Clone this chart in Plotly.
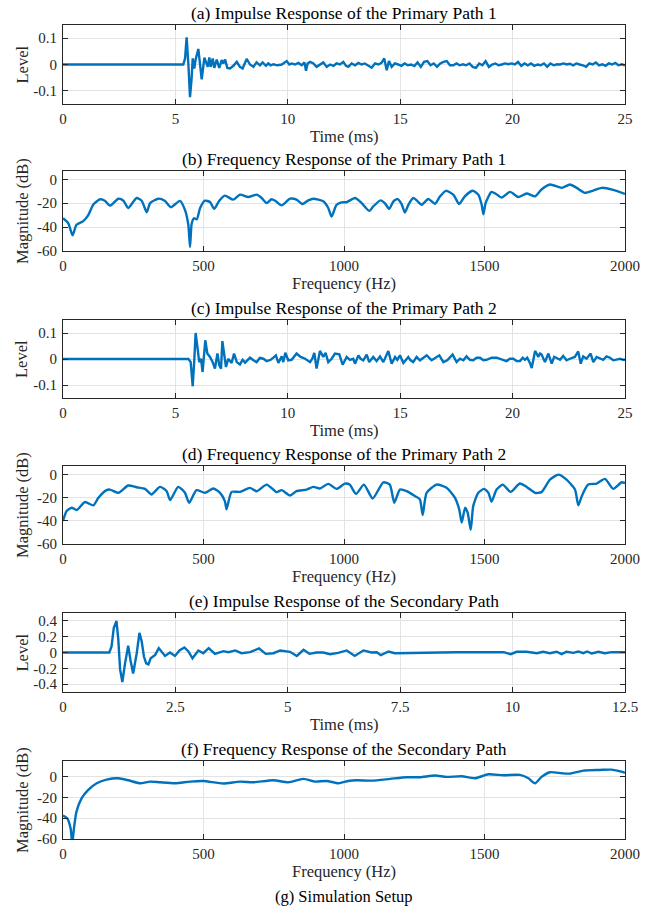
import numpy as np
import plotly.graph_objects as go

# ---------------- data ----------------
# (a) impulse response, primary path 1  (time in ms)
ir1_t = [0, 5.35, 5.43, 5.50, 5.58, 5.65, 5.72, 5.77, 5.84, 5.90,
         6.02, 6.09, 6.17, 6.29, 6.35, 6.44, 6.51, 6.57, 6.66, 6.73,
         6.84, 6.95, 7.06, 7.13, 7.21, 7.31, 7.43, 7.58, 7.73, 7.87,
         7.99, 8.17, 8.32, 8.47, 8.61, 8.76, 8.88, 9.03, 9.13, 9.24,
         9.36, 9.53, 9.73, 9.95, 10.07, 10.17, 10.32, 10.47, 10.62, 10.74,
         10.81, 10.88, 10.99, 11.14, 11.28, 11.43, 11.58, 11.73, 11.88, 12.03,
         12.17, 12.32, 12.47, 12.59, 12.69, 12.84, 12.99, 13.14, 13.28, 13.43,
         13.58, 13.73, 13.88, 14.03, 14.17, 14.29, 14.40, 14.50]
ir1_v = [0, 0, 0.023, 0.103, -0.003, -0.124, -0.054, 0.023, -0.015, 0.019,
         0.059, -0.003, -0.056, 0.026, 0.008, -0.009, 0.027, -0.009, 0.023, -0.013,
         0.019, -0.013, 0.017, 0.004, 0.019, -0.013, -0.015, -0.005, 0.010, -0.009,
         -0.015, 0.021, 0, -0.009, 0.008, -0.003, 0.008, -0.005, 0.004, -0.003,
         0.001, -0.003, 0, 0.013, 0, 0.004, 0, 0.006, -0.003, 0.008,
         -0.024, 0.004, 0.010, 0.004, -0.009, 0, 0.008, -0.009, 0, -0.005,
         0.004, 0, 0.010, -0.005, -0.009, 0.004, -0.003, 0.006, 0, 0.004,
         -0.003, -0.012, 0.004, 0, 0.006, 0.023, -0.022, 0.013]
ir1_tail_v = [-0.009, 0.004, 0, -0.005, 0.004, -0.003, 0, -0.006, 0.008, -0.009,
              0.010, 0.013, -0.003, 0.004, -0.009, 0.004, 0.010, 0.013, -0.003, -0.003,
              0.004, -0.003, 0.001, -0.003, 0.004, -0.009, -0.013, 0.004, -0.003, 0.013,
              -0.009, 0, 0.004, -0.003, 0, 0.004, 0.001, 0.004, 0, 0.010,
              -0.005, 0.004, -0.003, 0.004, -0.005, 0, -0.003, 0.004, -0.009, 0.004,
              -0.003, 0.001, 0, 0.004, 0, 0.003, -0.003, 0.004, 0, -0.003,
              -0.009, 0.004, 0, 0.008, -0.003, 0.001, -0.005, 0.004, 0, 0.006,
              -0.003, 0.001, -0.003]
ir1_tail_start, ir1_tail_end = 14.62, 25.0

# (c) impulse response, primary path 2
ir2_t = [0, 5.58, 5.68, 5.77, 5.84, 5.90, 5.98, 6.06, 6.14, 6.21,
         6.33, 6.42, 6.54, 6.66, 6.76, 6.87, 6.95, 7.03, 7.09, 7.16,
         7.25, 7.35, 7.50, 7.61, 7.73, 7.87, 7.99, 8.10, 8.32, 8.47,
         8.61, 8.76, 8.91, 9.06, 9.24, 9.36, 9.47, 9.58, 9.73, 9.80,
         9.89, 10.02, 10.17, 10.39, 10.57, 10.77, 10.99, 11.09, 11.18, 11.28,
         11.43, 11.58, 11.68, 11.80, 11.95, 12.10, 12.29, 12.44, 12.62, 12.76,
         12.91, 12.99, 13.14, 13.24, 13.36, 13.51, 13.62, 13.80, 13.95, 14.10,
         14.25, 14.47, 14.62, 14.77, 14.87, 14.99, 15.14, 15.36, 15.46, 15.58,
         15.73, 15.88, 16.03, 16.18, 16.40, 16.59, 16.74, 16.92, 17.09, 17.33,
         17.51, 17.66, 17.81, 17.95, 18.10, 18.25, 18.40, 18.55, 18.70, 18.84,
         19.07, 19.29, 19.51, 19.73, 19.88, 20.03, 20.18, 20.33, 20.45, 20.55,
         20.65, 20.77, 20.85, 21.00, 21.07, 21.14, 21.22, 21.29, 21.44, 21.59,
         21.74, 21.85, 21.96, 22.11, 22.25, 22.40, 22.55, 22.77, 22.92, 23.03,
         23.14, 23.29, 23.47, 23.59, 23.74, 23.89, 24.03, 24.18, 24.33, 24.48,
         24.63, 24.78, 24.92, 25.0]
ir2_v = [0, 0, -0.012, -0.105, -0.005, 0.100, 0.046, -0.012, 0.001, -0.050,
         0.072, 0.021, 0.008, -0.012, -0.037, 0.021, -0.024, -0.037, 0.069, 0.027,
         -0.031, 0.001, -0.015, 0.021, -0.012, -0.021, -0.003, -0.014, 0.005, -0.005,
         -0.012, 0.004, 0.001, -0.008, -0.003, 0.005, 0.014, -0.015, 0.010, -0.012,
         0.024, -0.005, -0.003, 0.021, 0.008, 0.001, -0.012, 0.001, 0.023, -0.037,
         0.031, 0.008, 0.024, -0.012, 0.001, 0.021, 0.018, -0.022, 0.008, -0.003,
         0.001, -0.018, 0.014, 0.001, -0.005, 0.017, -0.012, 0.008, -0.008, 0.010,
         -0.012, 0.031, -0.018, 0.008, -0.003, 0.014, -0.015, 0.008, -0.005, -0.012,
         0.008, -0.005, 0.005, 0.014, -0.005, 0.005, 0.014, -0.012, -0.005, 0.017,
         -0.012, 0.001, -0.005, 0.010, -0.003, -0.005, 0.005, 0.005, -0.005, -0.003,
         0.005, 0.005, -0.003, -0.008, 0.001, 0.001, -0.008, -0.008, 0.005, -0.003,
         0.005, -0.015, -0.035, 0.031, 0.021, 0.008, 0.021, 0.017, -0.012, 0.021,
         -0.018, 0.008, 0.004, -0.003, 0.012, -0.005, 0.001, 0.008, 0.029, -0.018,
         0.010, 0.001, 0.021, -0.012, 0.008, 0.001, -0.003, 0.010, 0.005, -0.005,
         -0.001, 0.001, -0.003, -0.003]

# (e) impulse response, secondary path
irs_t = [0, 1.03, 1.08, 1.13, 1.19, 1.23, 1.27, 1.32, 1.38, 1.45,
         1.50, 1.56, 1.64, 1.70, 1.75, 1.80, 1.85, 1.90, 1.95, 2.05,
         2.13, 2.19, 2.27, 2.38, 2.49, 2.59, 2.70, 2.79, 2.88, 3.01,
         3.12, 3.24, 3.38, 3.57, 3.68, 3.83, 3.97, 4.16, 4.36, 4.51,
         4.68, 4.83, 5.05, 5.20, 5.35, 5.48, 5.64, 5.79, 5.94, 6.12,
         6.31, 6.49, 6.68, 6.86, 6.98, 7.07, 7.24, 7.38, 7.50, 8.0,
         8.4, 8.76, 9.13, 9.57, 9.80, 9.96, 10.09, 10.31, 10.54, 10.68,
         10.83, 10.98, 11.09, 11.20, 11.35, 11.46, 11.57, 11.66, 11.76, 11.91,
         12.05, 12.20, 12.35, 12.5]
irs_v = [0, 0, 0.077, 0.313, 0.398, 0.163, -0.214, -0.373, -0.137, 0.086,
         -0.094, -0.266, -0.009, 0.248, 0.141, -0.051, -0.137, -0.150, -0.073, -0.030,
         0.056, 0.013, -0.043, 0, -0.043, 0.026, 0.064, 0.013, -0.073, 0.026,
         -0.009, 0.056, -0.017, 0.017, 0.004, 0.026, -0.009, 0.004, 0.051, -0.017,
         -0.009, 0.026, 0.009, -0.043, 0.034, -0.017, 0, 0, -0.021, -0.004,
         0.026, -0.043, 0.026, 0, 0.004, -0.034, 0.013, -0.009, -0.009, -0.009,
         0, 0.004, 0.004, 0.009, 0.004, -0.021, 0.009, 0.009, -0.009, 0.009,
         -0.009, 0.009, -0.021, 0.009, -0.004, 0.013, -0.009, 0.013, -0.013, 0.009,
         -0.009, 0.004, 0, 0.004]

# (b) frequency response, primary path 1 (Hz, dB)
fr1_f = [0, 19, 34, 48, 72, 90, 108, 132, 149, 167,
         197, 215, 232, 262, 280, 298, 310, 339, 362, 384,
         416, 434, 446, 452, 458, 466, 476, 488, 505, 523,
         538, 556, 576, 606, 630, 659, 689, 707, 725, 742,
         755, 778, 808, 831, 852, 873, 891, 926, 944, 956,
         973, 991, 1010, 1039, 1063, 1090, 1104, 1130, 1145, 1161,
         1176, 1191, 1205, 1217, 1229, 1247, 1262, 1276, 1300, 1324,
         1342, 1363, 1389, 1410, 1430, 1458, 1478, 1490, 1496, 1504,
         1525, 1541, 1561, 1591, 1620, 1650, 1680, 1703, 1733, 1775,
         1804, 1828, 1857, 1887, 1917, 1958, 2000]
fr1_db = [-32.6, -36.9, -46.8, -38, -35, -30, -21, -16.7, -17.9, -22,
          -16.2, -17.9, -24, -15.6, -17.9, -27.5, -19.9, -16.2, -17.9, -23.3,
          -18, -25.5, -38, -56.7, -37, -32.6, -33.5, -24, -17.9, -19,
          -24.7, -17.9, -13.6, -17, -12.8, -14.8, -12.8, -15.6, -19.9, -16.7,
          -17.9, -21.8, -16.2, -17, -20.7, -17.6, -16.2, -18.4, -24, -31.2,
          -21.5, -19.3, -19, -15.6, -19.9, -26.4, -22.7, -17.6, -19.9, -24.7,
          -18.4, -16.5, -20.7, -27.8, -21.3, -15.6, -18.4, -21.3, -16.5, -20.4,
          -14.2, -9.6, -12.8, -20.7, -14.2, -9.6, -12.8, -21.3, -29.2, -19.9,
          -10.5, -12.2, -15.3, -10.5, -14.8, -11.9, -14.2, -8.5, -4.3, -7.1,
          -4.3, -7.1, -11.3, -9.4, -7.1, -8.8, -12.2]

# (d) frequency response, primary path 2
fr2_f = [0, 13, 31, 49, 78, 108, 126, 155, 167, 197,
         232, 262, 292, 315, 345, 369, 381, 410, 434, 449,
         475, 505, 535, 559, 576, 582, 600, 630, 665, 689,
         725, 760, 778, 808, 831, 867, 891, 914, 944, 974,
         1003, 1020, 1043, 1071, 1102, 1140, 1163, 1179, 1199, 1223,
         1253, 1270, 1280, 1294, 1330, 1365, 1395, 1410, 1419, 1431,
         1440, 1451, 1460, 1478, 1498, 1514, 1525, 1543, 1565, 1593,
         1626, 1650, 1680, 1703, 1733, 1763, 1792, 1822, 1834, 1846,
         1869, 1899, 1929, 1958, 1988, 2000]
fr2_db = [-40, -31.4, -28.6, -30.6, -23.7, -26.6, -20, -13.4, -12.9, -15.7,
          -9.4, -10.9, -12.3, -17.1, -10.6, -14.3, -22, -10.6, -15.7, -24.3,
          -13.4, -15.7, -12, -15.7, -22.9, -30, -14.9, -14.9, -11.4, -14.3,
          -8.6, -15.1, -13.4, -18, -14.3, -12.9, -10.6, -12, -8, -12.3,
          -7.7, -8.6, -16.6, -8.6, -20.6, -6.6, -8.6, -24.3, -12.9, -14.3,
          -18.6, -21.4, -35, -15.7, -8.6, -11.4, -20, -30, -41.4, -28.6,
          -32.9, -47.7, -27, -15.7, -12.3, -15.7, -23.4, -12.9, -8.6, -14.9,
          -7.7, -10.6, -15.7, -15.1, -4.3, 0, -4.3, -12.9, -26.6, -18.6,
          -8.6, -7.7, -3.7, -12.3, -6.6, -7.2]

# (f) frequency response, secondary path
frs_f = [0, 15, 27, 33, 39, 48, 66, 90, 120, 155,
         197, 232, 274, 310, 345, 399, 452, 499, 570, 630,
         677, 748, 802, 855, 897, 938, 980, 1015, 1045, 1099,
         1164, 1223, 1270, 1324, 1365, 1419, 1466, 1514, 1567, 1626,
         1656, 1680, 1703, 1733, 1775, 1804, 1852, 1911, 1952, 1994,
         2000]
frs_db = [-37.5, -40, -49.7, -64, -49.7, -33.7, -20.9, -12.8, -6.4, -2.9,
          -1.6, -3.5, -6.4, -4.8, -5.5, -6.4, -4.8, -4.2, -6.7, -4.8,
          -5.5, -3.5, -5.5, -2.2, -4.8, -4.2, -6.4, -4.2, -3.5, -3.9,
          -2.2, -0.6, -0.6, 1.0, -0.3, 0.3, -1.6, 2.2, 1.3, 1.6,
          -1.6, -6.4, -0.3, 4.2, 3.2, 2.9, 5.8, 6.4, 6.7, 4.2,
          3.5]

# tick labels
lvl_ticks = [-0.1, 0, 0.1]
lvl_labels = ["-0.1", "0", "0.1"]
lvl_s_ticks = [-0.4, -0.2, 0, 0.2, 0.4]
lvl_s_labels = ["-0.4", "-0.2", "0", "0.2", "0.4"]
db_ticks = [-60, -40, -20, 0]
db_labels = ["-60", "-40", "-20", "0"]
t_ticks = [0, 5, 10, 15, 20, 25]
ts_ticks = [0, 2.5, 5, 7.5, 10, 12.5]
ts_labels = ["0", "2.5", "5", "7.5", "10", "12.5"]
f_ticks = [0, 500, 1000, 1500, 2000]

titles = ["(a) Impulse Response of the Primary Path 1",
          "(b) Frequency Response of the Primary Path 1",
          "(c) Impulse Response of the Primary Path 2",
          "(d) Frequency Response of the Primary Path 2",
          "(e) Impulse Response of the Secondary Path",
          "(f) Frequency Response of the Secondary Path"]
caption = "(g) Simulation Setup"

# ---------------- figure ----------------
W, H = 661, 910
X0, X1 = 63, 625
boxes = [(25, 104), (171, 251), (320, 398), (466, 544), (613, 692), (761, 839)]
FONT = "Liberation Serif"
LINE = "#0072BD"
AX = "#262626"


def px(xw):
    return xw / W


def py(yw):
    return 1 - yw / H


ir1_full_t = ir1_t + list(np.linspace(ir1_tail_start, ir1_tail_end, len(ir1_tail_v)))
ir1_full_v = ir1_v + ir1_tail_v

series = [
    (ir1_full_t, ir1_full_v, "linear"),
    (fr1_f, fr1_db, "spline"),
    (ir2_t, ir2_v, "linear"),
    (fr2_f, fr2_db, "spline"),
    (irs_t, irs_v, "linear"),
    (frs_f, frs_db, "spline"),
]

fig = go.Figure()
for i, (x, y, shape) in enumerate(series):
    n = "" if i == 0 else str(i + 1)
    line = dict(color=LINE, width=2.4, shape=shape)
    if shape == "spline":
        line["smoothing"] = 0.6
    fig.add_trace(go.Scatter(x=x, y=y, mode="lines", line=line,
                             xaxis="x" + n, yaxis="y" + n, showlegend=False,
                             hoverinfo="skip"))

common = dict(showline=True, linecolor=AX, linewidth=1, mirror="ticks",
              ticks="inside", ticklen=5, tickcolor=AX, tickwidth=1,
              showgrid=True, gridcolor="#e3e3e3", gridwidth=1, zeroline=False,
              automargin=False,
              tickfont=dict(family=FONT, size=15, color=AX))

xcfg = [
    (t_ticks, [str(v) for v in t_ticks], [0, 25]),
    (f_ticks, [str(v) for v in f_ticks], [0, 2000]),
    (t_ticks, [str(v) for v in t_ticks], [0, 25]),
    (f_ticks, [str(v) for v in f_ticks], [0, 2000]),
    (ts_ticks, ts_labels, [0, 12.5]),
    (f_ticks, [str(v) for v in f_ticks], [0, 2000]),
]
ycfg = [
    (lvl_ticks, lvl_labels, [-0.15, 0.15]),
    (db_ticks, db_labels, [-60, 7]),
    (lvl_ticks, lvl_labels, [-0.15, 0.15]),
    (db_ticks, db_labels, [-60, 7.5]),
    (lvl_s_ticks, lvl_s_labels, [-0.5, 0.5]),
    (db_ticks, db_labels, [-60, 15]),
]
xtitles = ["Time (ms)", "Frequency (Hz)", "Time (ms)", "Frequency (Hz)", "Time (ms)", "Frequency (Hz)"]
ytitles = ["Level", "Magnitude (dB)", "Level", "Magnitude (dB)", "Level", "Magnitude (dB)"]

layout = dict(width=W, height=H, margin=dict(l=0, r=0, t=0, b=0, autoexpand=False),
              paper_bgcolor="white", plot_bgcolor="white", showlegend=False,
              font=dict(family=FONT, color=AX))
annotations = []
for i, (top, bot) in enumerate(boxes):
    n = "" if i == 0 else str(i + 1)
    xt, xl, xr = xcfg[i]
    yt, yl, yr = ycfg[i]
    layout["xaxis" + n] = dict(common, domain=[px(X0), px(X1)], range=xr,
                               tickvals=xt, ticktext=xl, anchor="y" + n,
                               ticklabelstandoff=1)
    layout["yaxis" + n] = dict(common, domain=[py(bot), py(top)], range=yr,
                               tickvals=yt, ticktext=yl, anchor="x" + n,
                               ticklabelstandoff=2)
    annotations.append(dict(text=titles[i], x=px((X0 + X1) / 2), y=py(top - 12),
                            xref="paper", yref="paper", showarrow=False,
                            xanchor="center", yanchor="middle",
                            font=dict(family=FONT, size=17.5, color="#000000")))
    annotations.append(dict(text=xtitles[i], x=px((X0 + X1) / 2), y=py(bot + 32),
                            xref="paper", yref="paper", showarrow=False,
                            xanchor="center", yanchor="middle",
                            font=dict(family=FONT, size=16.5, color=AX)))
    annotations.append(dict(text=ytitles[i], x=px(22), y=py((top + bot) / 2),
                            xref="paper", yref="paper", showarrow=False, textangle=-90,
                            xanchor="center", yanchor="middle",
                            font=dict(family=FONT, size=16.5, color=AX)))
annotations.append(dict(text=caption, x=px((X0 + X1) / 2), y=py(896),
                        xref="paper", yref="paper", showarrow=False,
                        xanchor="center", yanchor="middle",
                        font=dict(family=FONT, size=16.5, color="#000000")))
layout["annotations"] = annotations
fig.update_layout(**layout)
# the page body otherwise keeps the browser's default 8 px margin
fig.write_html("out.html",
               config={"displayModeBar": False, "staticPlot": True},
               post_script="document.body.style.margin='0';document.body.style.overflow='hidden';")
